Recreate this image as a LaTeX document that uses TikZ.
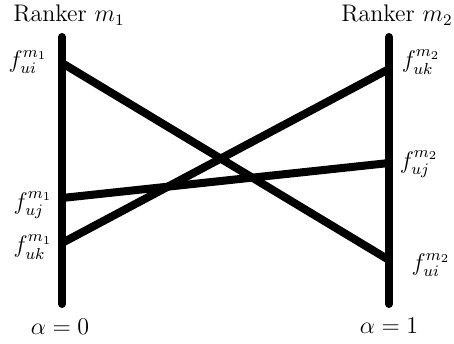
\documentclass[tikz,border=0pt]{standalone}
\usepackage{amsmath,amssymb}
\usepackage{tikz}
\usetikzlibrary{positioning,calc}
\tikzset{
  axisline/.style ={line width=4pt, line cap=round},
  scoreline/.style={line width=4pt, line cap=round},
  rlabel/.style   ={inner sep=1pt, font=\large},
  flabel/.style   ={inner sep=1pt, font=\large},
}

\begin{document}
\begin{tikzpicture}[x=0.5pt,y=-0.5pt]
  \useasboundingbox (0,0) rectangle (454,343);
  % axes of the two rankers
  \coordinate (ltop) at (62,37);
  \coordinate (lbot) at (62,304);
  \coordinate (rtop) at (389,37);
  \coordinate (rbot) at (389,304);
  \draw[axisline] (ltop) -- (lbot);
  \draw[axisline] (rtop) -- (rbot);
  \node[rlabel] (rk1) at (69,15) {Ranker $m_1$};
  \node[rlabel] (rk2) at (397,15) {Ranker $m_2$};
  \node[rlabel] (a0) at (60,327) {$\alpha=0$};
  \node[rlabel] (a1) at (389,326) {$\alpha=1$};
  % scores
  \coordinate (lui) at (62,63);
  \coordinate (luj) at (62,198);
  \coordinate (luk) at (62,243);
  \coordinate (rui) at (389,260);
  \coordinate (ruj) at (389,163);
  \coordinate (ruk) at (389,69);
  \draw[scoreline] (lui) -- (rui);
  \draw[scoreline] (luj) -- (ruj);
  \draw[scoreline] (luk) -- (ruk);
  \node[flabel] (fui1) at (28,62) {$f_{ui}^{m_1}$};
  \node[flabel] (fuj1) at (33,205) {$f_{uj}^{m_1}$};
  \node[flabel] (fuk1) at (33,247) {$f_{uk}^{m_1}$};
  \node[flabel] (fuk2) at (421,62) {$f_{uk}^{m_2}$};
  \node[flabel] (fuj2) at (419,164) {$f_{uj}^{m_2}$};
  \node[flabel] (fui2) at (431,265) {$f_{ui}^{m_2}$};
\end{tikzpicture}
\end{document}
